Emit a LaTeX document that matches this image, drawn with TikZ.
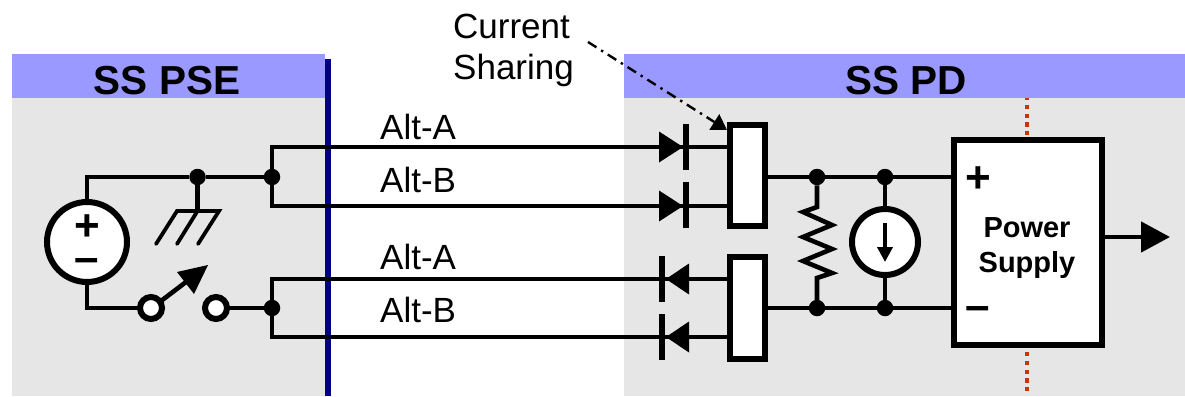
\documentclass[tikz,border=0pt]{standalone}
\usepackage{fontspec}
\setmainfont{Liberation Sans}
\usetikzlibrary{arrows.meta,calc}
\definecolor{panelgray}{HTML}{E6E6E6}
\definecolor{headblue}{HTML}{9999FF}
\definecolor{linenavy}{HTML}{000080}
\definecolor{dotred}{HTML}{CC3300}
\tikzset{
  wire/.style={line width=4.6pt,black},
  bar/.style={line width=6pt,black},
  tri/.style={fill=black,draw=none},
  dotnode/.style={circle,fill=black,draw=none,minimum size=16.5pt,inner sep=0pt,outer sep=0pt},
  ringnode/.style={circle,fill=white,draw=black,line width=6pt,inner sep=0pt,outer sep=0pt},
  boxnode/.style={rectangle,fill=white,draw=black,line width=6pt,inner sep=0pt,outer sep=0pt},
  head/.style={font=\bfseries\fontsize{40.5}{40}\selectfont,anchor=base,inner sep=0pt},
  lab/.style={font=\fontsize{35}{35}\selectfont,anchor=base west,inner sep=0pt},
  boldlab/.style={font=\bfseries\fontsize{29}{29}\selectfont,anchor=base,inner sep=0pt},
  sign/.style={font=\bfseries\fontsize{44}{32}\selectfont,anchor=base,inner sep=0pt,align=center},
  reddots/.style={line width=4.2pt,dotred,dash pattern=on 4.2pt off 4.6pt},
}
\begin{document}
\begin{tikzpicture}[x=1pt,y=-1pt]
\useasboundingbox (0,0) rectangle (1185,396);
% panels
\fill[panelgray] (12,98) rectangle (325,396);
\fill[panelgray] (624,98) rectangle (1185,396);
\fill[headblue] (12,54) rectangle (325,98);
\fill[headblue] (624,54) rectangle (1185,98);
\node[head] (psehead) at (167,94) {SS PSE};
\node[head] (pdhead) at (906,94) {SS PD};
\draw[line width=6pt,linenavy] (327.5,59) -- (327.5,396);
% nodes
\node[ringnode,minimum size=80pt] (vs) at (87,242) {};
\node[ringnode,minimum size=66pt] (cs) at (885,242) {};
\node[ringnode,minimum size=22pt] (swa) at (151,308) {};
\node[ringnode,minimum size=22pt] (swb) at (216,308) {};
\node[dotnode] (dgnd) at (197.5,177) {};
\node[dotnode] (dtop) at (272,177) {};
\node[dotnode] (dbot) at (272,308) {};
\node[dotnode] (rt) at (817,177) {};
\node[dotnode] (rb) at (817,308) {};
\node[dotnode] (ct) at (885,177) {};
\node[dotnode] (cb) at (885,308) {};
\node[boxnode,minimum width=35pt,minimum height=101pt] (shA) at (747.5,175.5) {};
\node[boxnode,minimum width=35pt,minimum height=102pt] (shB) at (747.5,308) {};
\node[boxnode,minimum width=148pt,minimum height=205pt] (ps) at (1028,242.5) {};
% helper coordinates
\coordinate (c1) at (272,147); \coordinate (c2) at (272,206);
\coordinate (c3) at (272,279); \coordinate (c4) at (272,337);
\coordinate (gnd) at (197.5,211);
\coordinate (gl) at (177,211); \coordinate (gr) at (219,211);
\coordinate (gla) at (156,244); \coordinate (gma) at (177,244); \coordinate (gra) at (198,244);
\coordinate (armtip) at (208,265);
% source side wiring
\draw[wire] (vs.north) -- (87,177) -- (dgnd) -- (dtop);
\draw[wire] (vs.south) -- (87,308) -- (swa.west);
\draw[wire] (swb.east) -- (dbot);
\draw[wire,line cap=rect] (c1) -- (c2);
\draw[wire,line cap=rect] (c3) -- (c4);
% ground
\draw[wire] (dgnd) -- (gnd);
\draw[line width=3.8pt,line cap=round] (gla) -- (gl) -- (gr) -- (gra);
\draw[line width=3.8pt,line cap=round] (gma) -- (gnd);
% switch arm
\fill[tri] (armtip) -- (177,272) -- (194,294) -- cycle;
\draw[wire] (161,301) -- (186,282);
% alt lines
\coordinate (da1) at (686,147); \coordinate (da2) at (686,206);
\coordinate (db1) at (662,279); \coordinate (db2) at (662,337);
\draw[wire] (c1) -- (da1) -- (shA.west |- da1);
\draw[wire] (c2) -- (da2) -- (shA.west |- da2);
\draw[wire] (c3) -- (db1) -- (shB.west |- db1);
\draw[wire] (c4) -- (db2) -- (shB.west |- db2);
% forward diodes
\fill[tri] (659,131.5) -- (683,147) -- (659,162.5) -- cycle;
\draw[bar] (686,124) -- (686,170);
\fill[tri] (659,190.5) -- (683,206) -- (659,221.5) -- cycle;
\draw[bar] (686,182) -- (686,228);
% reverse diodes
\fill[tri] (689,263.5) -- (666,279) -- (689,294.5) -- cycle;
\draw[bar] (662,256) -- (662,302);
\fill[tri] (689,321.5) -- (666,337) -- (689,352.5) -- cycle;
\draw[bar] (662,314) -- (662,360);
% PD rails
\draw[wire] (shA.east |- rt) -- (rt) -- (ct) -- (ps.west |- ct);
\draw[wire] (shB.east |- rb) -- (rb) -- (cb) -- (ps.west |- cb);
% resistor
\draw[wire,line join=miter] (rt) -- (817,207) -- (803,212) -- (832,225) -- (803,237) -- (832,249) -- (803,261) -- (832,273) -- (817,278) -- (rb);
% current source
\draw[wire] (ct) -- (cs.north);
\draw[wire] (cs.south) -- (cb);
\coordinate (iA) at (885,223); \coordinate (iB) at (885,262);
\draw[wire,-{Triangle[length=15pt,width=15pt]}] (iA) -- (iB);
% output
\coordinate (outtip) at (1170,237);
\draw[wire,-{Triangle[length=29pt,width=30pt]}] (ps.east |- outtip) -- (outtip);
% red dotted
\coordinate (ra) at (1027,98); \coordinate (rc) at (1027,352); \coordinate (rd) at (1027,391);
\draw[reddots,dash phase=2pt] (ra) -- (ps.north -| ra);
\draw[reddots] (ps.south -| rc) ++(0,7) -- (rd);
% current sharing pointer
\node[lab] (cur) at (453,38) {Current};
\node[lab] (sha) at (453,79.5) {Sharing};
\coordinate (ptrS) at (588,42); \coordinate (ptrE) at (727,130);
\draw[line width=2.4pt,dash pattern=on 10pt off 5.5pt on 2.4pt off 5.5pt,-{Triangle[length=15pt,width=18pt]}] (ptrS) -- (ptrE);
% labels
\node[lab] (a1) at (380,139) {Alt-A};
\node[lab] (b1) at (380,192) {Alt-B};
\node[lab] (a2) at (380,269) {Alt-A};
\node[lab] (b2) at (380,322) {Alt-B};
\node[boldlab] (pw) at (1027,237) {Power};
\node[boldlab] (sp) at (1027,272) {Supply};
\node[sign] (vssigns) at (87,272) {+\\–};
\node[sign] (pp) at (978,192.5) {+};
\node[sign] (pm) at (978,320) {–};
\end{tikzpicture}
\end{document}
